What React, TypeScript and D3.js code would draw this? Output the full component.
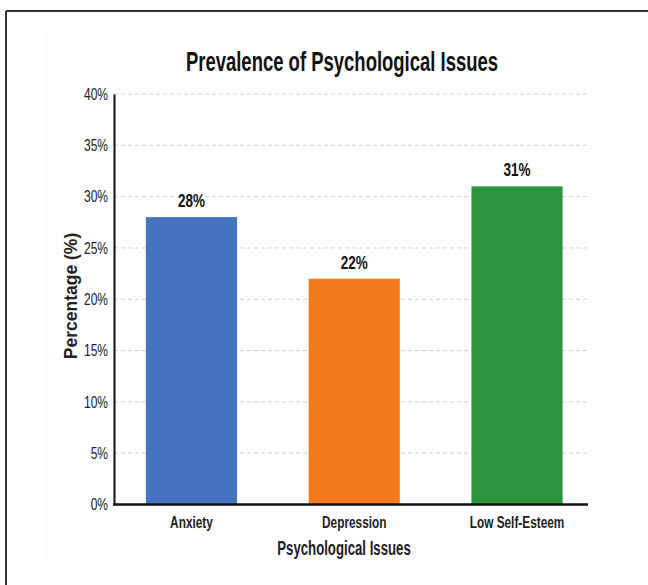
import React, { useEffect, useRef } from "react";
import * as d3 from "d3";

const categories = ["Anxiety", "Depression", "Low Self-Esteem"];
const values = [28, 22, 31];
const colors = ["#4474bf", "#f47a1a", "#2e9440"];
const yTicks = [0, 5, 10, 15, 20, 25, 30, 35, 40];

// no narrow font installed, so Liberation Sans is squeezed horizontally
const FONT = "'Liberation Sans', Arial, sans-serif";

const App = () => {
  const ref = useRef<SVGSVGElement>(null);

  useEffect(() => {
    const W = 648;
    const H = 585;
    const left = 114;
    const right = 588;
    const top = 94;
    const bottom = 504.5;

    const svg = d3.select(ref.current);
    svg.selectAll("*").remove();
    svg.attr("width", W).attr("height", H);

    svg.append("rect").attr("width", W).attr("height", H).attr("fill", "#fff");
    svg.append("rect")
      .attr("x", 45).attr("y", 30).attr("width", 556).attr("height", 536)
      .attr("fill", "#fdfdfd");

    // frame lines (cropped screenshot border)
    svg.append("line").attr("x1", 6).attr("x2", W).attr("y1", 11).attr("y2", 11)
      .attr("stroke", "#333").attr("stroke-width", 2);
    svg.append("line").attr("x1", 6).attr("x2", 6).attr("y1", 11).attr("y2", H)
      .attr("stroke", "#333").attr("stroke-width", 2);

    const x = d3.scaleBand<string>()
      .domain(categories)
      .range([left, 594.5])
      .paddingInner(0.44)
      .paddingOuter(0.196);

    const y = d3.scaleLinear().domain([0, 40]).range([bottom, top]);

    const narrowText = (tx: number, ty: number, sx: number, size: number, label: string, fill = "#111") =>
      svg.append("text")
        .attr("transform", `translate(${tx},${ty}) scale(${sx},1)`)
        .attr("text-anchor", "middle")
        .attr("font-family", FONT)
        .attr("font-weight", "bold")
        .attr("font-size", size)
        .attr("fill", fill)
        .text(label);

    // grid
    svg.append("g")
      .selectAll("line")
      .data(yTicks)
      .join("line")
      .attr("x1", left).attr("x2", right)
      .attr("y1", d => y(d)).attr("y2", d => y(d))
      .attr("stroke", "#d2d2d2")
      .attr("stroke-width", 1)
      .attr("stroke-dasharray", "4,3");

    // bars
    svg.append("g")
      .selectAll("rect")
      .data(values)
      .join("rect")
      .attr("x", (d, i) => x(categories[i])!)
      .attr("y", d => y(d))
      .attr("width", x.bandwidth())
      .attr("height", d => bottom - y(d))
      .attr("fill", (d, i) => colors[i]);

    // value labels
    values.forEach((v, i) => {
      narrowText(x(categories[i])! + x.bandwidth() / 2, y(v) - 10, 0.75, 18, `${v}%`);
    });

    // y axis
    const yAxis = svg.append("g")
      .attr("transform", `translate(${left},0)`)
      .call(d3.axisLeft(y).tickValues(yTicks).tickSize(0).tickPadding(8).tickFormat(d => `${d}%`));
    yAxis.select(".domain").attr("stroke", "#111").attr("stroke-width", 2);
    yAxis.selectAll("text")
      .attr("transform", "scale(0.75,1)")
      .attr("font-family", FONT)
      .attr("font-size", 16)
      .attr("fill", "#222");

    // x axis
    const xAxis = svg.append("g")
      .attr("transform", `translate(0,${bottom})`)
      .call(d3.axisBottom(x).tickSize(0).tickPadding(12));
    xAxis.select(".domain").remove();
    xAxis.selectAll("text")
      .attr("transform", "scale(0.74,1)")
      .attr("font-family", FONT)
      .attr("font-weight", "bold")
      .attr("font-size", 16)
      .attr("fill", "#222");
    svg.append("line")
      .attr("x1", left - 1).attr("x2", right)
      .attr("y1", bottom).attr("y2", bottom)
      .attr("stroke", "#111").attr("stroke-width", 2.5);

    // titles
    narrowText(342, 71, 0.66, 28, "Prevalence of Psychological Issues");
    narrowText(344, 555, 0.66, 20, "Psychological Issues", "#222");

    svg.append("text")
      .attr("transform", "translate(77,296) rotate(-90)")
      .attr("text-anchor", "middle")
      .attr("font-family", FONT)
      .attr("font-weight", "bold")
      .attr("font-size", 17.5)
      .attr("fill", "#222")
      .text("Percentage (%)");
  }, []);

  return <svg ref={ref} style={{ position: "absolute", left: 0, top: 0, display: "block" }}></svg>;
};

export default App;
